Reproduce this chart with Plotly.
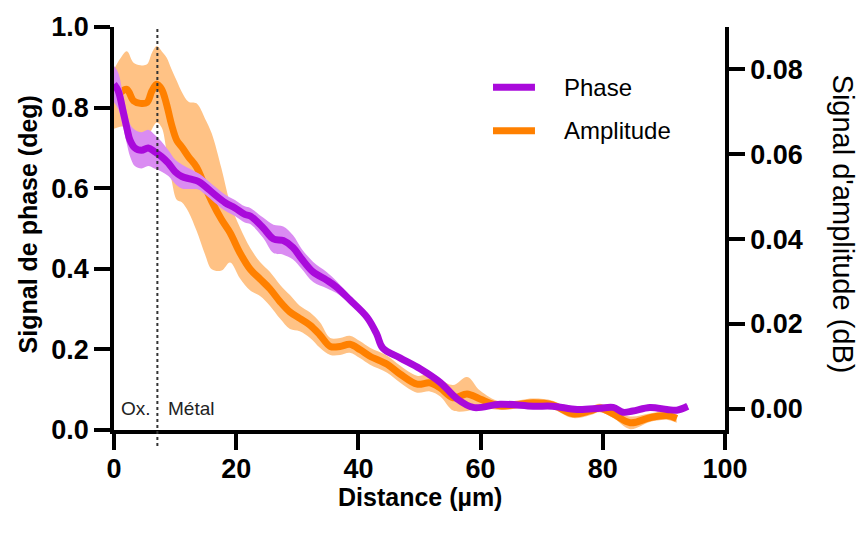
import plotly.graph_objects as go

# ---------------- data ----------------
phase_x = [0, 0.7, 1.5, 2.1, 2.6, 3.4, 4.5, 5.6, 6.7, 7.8, 8.9, 10.0, 11.1, 12.4, 13.8,
           14.9, 16.5, 18.2, 19.8, 21.4, 22.3, 24.4, 26.1, 27.7, 29.3, 30.7, 32.6, 34.8,
           36.4, 38.6, 41.4, 43.0, 44.0, 46.8, 50.1, 53.4, 56.1, 58.8, 63.2, 68.6, 71.8,
           75.8, 79.5, 81.7, 83.3, 84.9, 87.7, 90.5, 92.1, 93.9]
phase = [0.858, 0.841, 0.79, 0.75, 0.72, 0.70, 0.694, 0.70, 0.69, 0.678, 0.662, 0.641,
         0.629, 0.623, 0.617, 0.605, 0.584, 0.564, 0.551, 0.535, 0.531, 0.502, 0.474,
         0.47, 0.453, 0.425, 0.392, 0.372, 0.355, 0.323, 0.280, 0.238, 0.203, 0.179,
         0.152, 0.118, 0.078, 0.056, 0.064, 0.059, 0.059, 0.051, 0.054, 0.056, 0.044,
         0.047, 0.056, 0.051, 0.049, 0.059]
phase_err = [0.045, 0.045, 0.04, 0.04, 0.04, 0.045, 0.045, 0.045, 0.042, 0.037, 0.032, 0.03,
             0.03, 0.025, 0.02, 0.02, 0.02, 0.02, 0.02, 0.02, 0.02, 0.025, 0.035, 0.035,
             0.03, 0.025, 0.025, 0.02, 0.015, 0.01, 0.008, 0.008, 0.008, 0.008, 0.006,
             0.006, 0.006, 0.005, 0.004, 0.004, 0.004, 0.004, 0.004, 0.004, 0.004, 0.004,
             0.004, 0.004, 0.004, 0.004]

amp_x = [0, 1.0, 2.1, 3.2, 4.3, 5.4, 6.2, 7.0, 7.8, 8.6, 9.4, 10.3, 11.1, 12.2, 13.5,
         14.9, 16.0, 17.6, 19.0, 20.6, 22.3, 23.9, 25.5, 27.2, 28.8, 30.4, 32.1, 33.7,
         35.4, 37.0, 38.6, 40.3, 41.9, 44.7, 46.8, 49.6, 51.7, 53.4, 55.5, 57.8, 59.9,
         63.2, 68.6, 71.8, 75.1, 77.9, 79.5, 81.7, 84.5, 87.7, 90.5, 92.1]
amplitude = [0.073, 0.0745, 0.0753, 0.0726, 0.072, 0.0722, 0.0749, 0.0765, 0.0753, 0.0718,
             0.0671, 0.0632, 0.0617, 0.0594, 0.057, 0.0524, 0.0489, 0.0446, 0.0415, 0.0368,
             0.0329, 0.0306, 0.0283, 0.0252, 0.0228, 0.0213, 0.0197, 0.0174, 0.0147,
             0.0147, 0.0152, 0.0139, 0.0124, 0.0105, 0.0082, 0.0058, 0.0061, 0.0049,
             0.0026, 0.0035, 0.0023, 0.0007, 0.0014, 0.0009, -0.0012, -0.0005, 0.0002,
             -0.0012, -0.0033, -0.0021, -0.0016, -0.0023]
amp_err = [0.007, 0.008, 0.009, 0.009, 0.009, 0.009, 0.009, 0.009, 0.009, 0.011, 0.013,
           0.014, 0.013, 0.013, 0.015, 0.016, 0.016, 0.012, 0.007, 0.006, 0.005, 0.004,
           0.004, 0.004, 0.004, 0.003, 0.003, 0.003, 0.002, 0.002, 0.002, 0.002, 0.002,
           0.002, 0.002, 0.002, 0.002, 0.002, 0.003, 0.004, 0.002, 0.001, 0.001, 0.001,
           0.001, 0.001, 0.001, 0.001, 0.0015, 0.001, 0.001, 0.001]

x_ticks = [0, 20, 40, 60, 80, 100]
phase_ticks = [0.0, 0.2, 0.4, 0.6, 0.8, 1.0]
amp_ticks = [0.00, 0.02, 0.04, 0.06, 0.08]
interface_x = 7.1
legend_names = ["Phase", "Amplitude"]

# ---------------- style ----------------
PURPLE = "#A90ADB"
PURPLE_BAND = "#DA8CF2"
ORANGE = "#FF8000"
ORANGE_BAND = "#FFC285"
FONT = "Liberation Sans, Arial, sans-serif"

amp_lo = [v - e for v, e in zip(amplitude, amp_err)]
amp_hi = [v + e for v, e in zip(amplitude, amp_err)]
ph_lo = [v - e for v, e in zip(phase, phase_err)]
ph_hi = [v + e for v, e in zip(phase, phase_err)]

fig = go.Figure()
# amplitude (primary y, right side; drawn below)
fig.add_trace(go.Scatter(x=amp_x, y=amp_lo, mode="lines", line=dict(width=0, shape="spline"),
                         showlegend=False, hoverinfo="skip", yaxis="y"))
fig.add_trace(go.Scatter(x=amp_x, y=amp_hi, mode="lines", line=dict(width=0, shape="spline"),
                         fill="tonexty", fillcolor=ORANGE_BAND, showlegend=False,
                         hoverinfo="skip", yaxis="y"))
fig.add_trace(go.Scatter(x=amp_x, y=amplitude, mode="lines", name=legend_names[1],
                         line=dict(color=ORANGE, width=7, shape="spline"),
                         showlegend=False, yaxis="y"))
# phase (overlaying y2, left side; drawn on top)
fig.add_trace(go.Scatter(x=phase_x, y=ph_lo, mode="lines", line=dict(width=0, shape="spline"),
                         showlegend=False, hoverinfo="skip", yaxis="y2"))
fig.add_trace(go.Scatter(x=phase_x, y=ph_hi, mode="lines", line=dict(width=0, shape="spline"),
                         fill="tonexty", fillcolor=PURPLE_BAND, showlegend=False,
                         hoverinfo="skip", yaxis="y2"))
fig.add_trace(go.Scatter(x=phase_x, y=phase, mode="lines", name=legend_names[0],
                         line=dict(color=PURPLE, width=7, shape="spline"),
                         showlegend=False, yaxis="y2"))

tickfont = dict(family=FONT, size=27, color="black", weight="bold")
axis_common = dict(showline=True, linecolor="black", linewidth=3.5, ticks="outside",
                   ticklen=16, tickwidth=3.5, tickcolor="black", showgrid=False,
                   zeroline=False, tickfont=tickfont)

# legend drawn as line samples + labels (paper coordinates)
legend_shapes = []
legend_texts = []
for name, color, ly in [(legend_names[0], PURPLE, 0.8505), (legend_names[1], ORANGE, 0.7426)]:
    legend_shapes.append(dict(type="line", xref="paper", yref="paper", x0=0.6203, x1=0.689,
                              y0=ly, y1=ly, line=dict(color=color, width=7)))
    legend_texts.append(dict(text=name, xref="paper", yref="paper", x=0.7325, y=ly,
                             xanchor="left", yanchor="middle", showarrow=False,
                             font=dict(family=FONT, size=24, color="black")))

fig.update_layout(
    width=860, height=533,
    margin=dict(l=114, r=135, t=22, b=103),
    paper_bgcolor="white", plot_bgcolor="white",
    xaxis=dict(range=[0, 100], tickvals=x_ticks, ticklabelstandoff=-4, **axis_common),
    yaxis=dict(range=[-0.005, 0.09], tickvals=amp_ticks, tickformat=".2f",
               side="right", anchor="x", **axis_common),
    yaxis2=dict(range=[0, 1.0], tickvals=phase_ticks, tickformat=".1f",
                side="left", overlaying="y", anchor="x", **axis_common),
    showlegend=False,
    shapes=[dict(type="line", xref="x", yref="paper", x0=interface_x, x1=interface_x,
                 y0=-0.04, y1=1.0, line=dict(color="#333333", width=2, dash="dot"),
                 layer="above")] + legend_shapes,
    annotations=[
        dict(text="Signal de phase (deg)", xref="paper", yref="paper", x=-0.1408, y=0.51,
             xanchor="center", yanchor="middle", textangle=-90, showarrow=False,
             font=dict(family=FONT, size=25, color="black", weight="bold")),
        dict(text="Signal d'amplitude (dB)", xref="paper", yref="paper", x=1.193, y=0.51,
             xanchor="center", yanchor="middle", textangle=90, showarrow=False,
             font=dict(family=FONT, size=29, color="black")),
        dict(text="Distance (µm)", xref="paper", yref="paper", x=0.5, y=-0.166,
             xanchor="center", yanchor="middle", showarrow=False,
             font=dict(family=FONT, size=25, color="black", weight="bold")),
        dict(text="Ox.", xref="x", yref="paper", x=3.6, y=0.054, showarrow=False,
             xanchor="center", yanchor="middle",
             font=dict(family=FONT, size=19, color="#222222")),
        dict(text="Métal", xref="x", yref="paper", x=12.6, y=0.054, showarrow=False,
             xanchor="center", yanchor="middle",
             font=dict(family=FONT, size=19, color="#222222")),
    ] + legend_texts,
)

fig.write_html("out.html", config={"displayModeBar": False},
               post_script="document.body.style.margin='0px';")
